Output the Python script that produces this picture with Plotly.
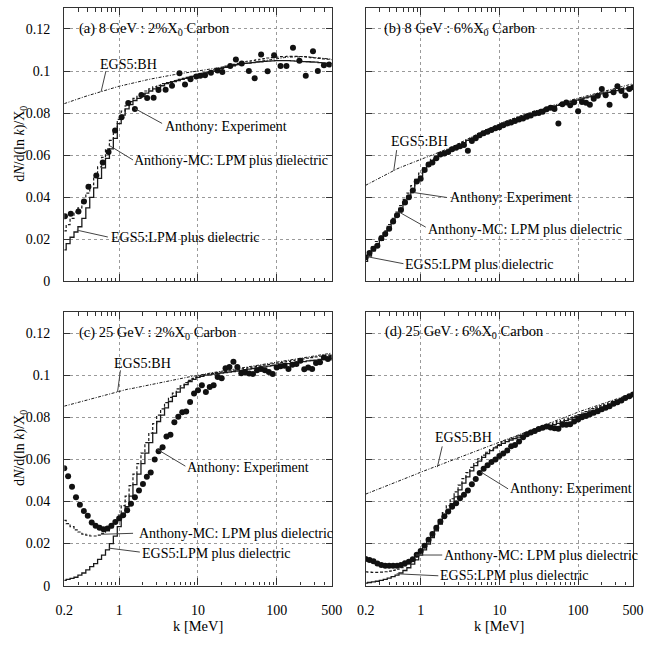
import numpy as np
import plotly.graph_objects as go

# ---------------- data ----------------
K = [0.2, 0.224, 0.251, 0.282, 0.316, 0.355, 0.398, 0.447, 0.501, 0.562, 0.631, 0.708, 0.794, 0.891,
     1.0, 1.12, 1.26, 1.41, 1.58, 1.78, 2.0, 2.24, 2.51, 2.82, 3.16, 3.55, 3.98, 4.47, 5.01, 5.62,
     6.31, 7.08, 7.94, 8.91, 10.0, 11.2, 12.6, 14.1, 15.8, 17.8, 20.0, 22.4, 25.1, 28.2, 31.6, 35.5,
     39.8, 44.7, 50.1, 56.2, 63.1, 70.8, 79.4, 89.1, 100, 112, 126, 141, 158, 178, 200, 224, 251,
     282, 316, 355, 398, 447, 501]

# panel (a) 8 GeV 2% X0
EGS5_A = [0.015,0.018,0.021,0.0235,0.026,0.030,0.035,0.040,0.0445,0.049,0.054,0.0585,0.063,0.068,0.075,
          0.079,0.082,0.084,0.086,0.087,0.088,0.0895,0.0905,0.0915,0.0922,0.093,0.094,0.0945,0.095,0.0955,0.096,0.0965,0.097,0.0975,
          0.098,
          0.0985,0.099,0.0995,0.100,0.1008,0.1013,0.1018,0.1022,0.1025,0.103,0.1033,0.1036,0.1038,0.104,0.1042,0.1044,0.1046,0.1047,0.1048,0.1049,
          0.1049,0.1049,0.1049,0.1048,0.1047,0.1046,0.1045,0.1044,0.1043,0.1042,0.104,0.1038,0.1036,0.1035]
MC_A = [0.024,0.027,0.030,0.033,0.035,0.038,0.042,0.046,0.050,0.0545,0.059,0.063,0.067,0.072,0.077,
        0.081,0.0835,0.0855,0.087,0.088,0.089,0.0905,0.0915,0.0925,0.0932,0.094,0.0945,0.095,0.0955,0.096,0.0965,0.097,0.0975,0.098,
        0.0985,
        0.099,0.0995,0.1,0.1006,0.1012,0.1018,0.1023,0.1028,0.1032,0.1036,0.104,0.1044,0.1047,0.105,0.1053,0.1056,0.1059,0.1062,0.1064,0.1066,
        0.1068,0.1069,0.107,0.107,0.107,0.1069,0.1068,0.1066,0.1064,0.1062,0.106,0.1058,0.1056,0.1054]
BH_A = [0.0845,0.0852,0.0858,0.0865,0.0871,0.0877,0.0883,0.0889,0.0895,0.09,0.0906,0.0912,0.0917,0.0923,0.0928,
        0.0932,0.0937,0.0941,0.0946,0.095,0.0954,0.0958,0.0962,0.0966,0.097,0.0973,0.0977,0.098,0.0983,0.0986,0.0989,0.0992,0.0995,0.0998,
        0.1001,
        0.1004,0.1007,0.101,0.1013,0.1016,0.1019,0.1022,0.1025,0.1028,0.1031,0.1034,0.1037,0.104,0.1043,0.1046,0.1049,0.1052,0.1055,0.1058,0.106,
        0.1062,0.1064,0.1066,0.1067,0.1068,0.1068,0.1068,0.1067,0.1066,0.1064,0.1062,0.106,0.1058,0.1056]
KA = [0.204,0.242,0.303,0.356,0.406,0.511,0.617,0.731,0.885,1.07,1.30,1.58,1.91,2.26,2.73,3.15,3.88,4.68,5.82,6.84,
      8.04,9.53,10.7,12.3,14.6,17.7,20.4,25.7,30.3,36.0,44.3,52.5,63.4,76.7,92.7,112,133,161,194,234,289,333,398,465]
EXP_A = [0.031,0.0322,0.0332,0.038,0.045,0.0504,0.0565,0.0615,0.0717,0.078,0.0848,0.082,0.0886,0.0872,0.0873,
         0.091,0.0911,0.093,0.0989,0.0936,0.0961,0.0974,0.0977,0.098,0.0992,0.1003,0.0995,0.1024,0.1055,0.1036,
         0.1,0.0966,0.1078,0.0999,0.1075,0.1024,0.1024,0.1111,0.1049,0.0977,0.1094,0.1,0.1028,0.1031]

# panel (b) 8 GeV 6% X0
EGS5_B = [0.0095,0.012,0.0145,0.017,0.0195,0.022,0.025,0.028,0.031,0.034,0.037,0.040,0.0435,0.047,0.050,
          0.0525,0.055,0.057,0.0585,0.060,0.061,0.062,0.063,0.064,0.065,0.066,0.067,0.068,0.069,0.070,0.071,0.0718,0.0726,0.0734,
          0.0742,
          0.075,0.0757,0.0764,0.0771,0.0778,0.0785,0.0791,0.0797,0.0803,0.0809,0.0815,0.082,0.0826,0.0831,0.0837,0.0843,0.0848,0.0853,0.0858,0.0862,
          0.0867,0.0872,0.0877,0.0882,0.0887,0.0891,0.0895,0.0899,0.0903,0.0907,0.0911,0.0915,0.0919,0.0922]
MC_B = [0.0115,0.014,0.0165,0.019,0.0215,0.024,0.027,0.030,0.033,0.036,0.039,0.042,0.0455,0.0485,0.0515,
        0.054,0.0562,0.058,0.0594,0.0607,0.0618,0.0628,0.0637,0.0646,0.0655,0.0664,0.0673,0.0683,0.0693,0.0703,0.0713,0.0721,0.0729,0.0737,
        0.0745,
        0.0753,0.076,0.0767,0.0774,0.0781,0.0788,0.0794,0.08,0.0806,0.0812,0.0818,0.0824,0.083,0.0835,0.084,0.0846,0.0851,0.0856,0.0861,0.0866,
        0.0871,0.0876,0.0881,0.0886,0.0891,0.0896,0.09,0.0904,0.0908,0.0912,0.0916,0.092,0.0924,0.0927]
BH_B = [0.0457,0.0467,0.0477,0.0487,0.0497,0.0507,0.0517,0.0527,0.0535,0.0543,0.0551,0.0558,0.0565,0.0572,0.058,
        0.0587,0.0594,0.0601,0.0608,0.0615,0.0622,0.063,0.0639,0.0648,0.0657,0.0667,0.0677,0.0687,0.0697,0.0707,0.0716,0.0724,0.0732,0.074,
        0.0749,
        0.0757,0.0764,0.0771,0.0778,0.0785,0.0792,0.0798,0.0804,0.081,0.0816,0.0822,0.0828,0.0834,0.0839,0.0845,0.0851,0.0856,0.0861,0.0866,0.0871,
        0.0876,0.0881,0.0886,0.0891,0.0896,0.0901,0.0906,0.091,0.0915,0.092,0.0925,0.093,0.0935,0.094]
EXP_B = [0.0115,0.0135,0.0155,0.017,0.0205,0.0225,0.025,0.0285,0.0315,0.034,0.0375,0.040,0.0432,0.0475,0.0488,
         0.053,0.0556,0.0565,0.0585,0.0603,0.0608,0.0615,0.0628,0.0635,0.0642,0.0648,0.0621,0.0668,0.0681,0.0695,0.0704,0.0712,0.072,0.0728,
         0.0733,
         0.0742,0.0751,0.0755,0.0762,0.077,0.0775,0.0783,0.0789,0.0798,0.0801,0.0806,0.0818,0.0826,0.082,0.0751,0.0842,0.085,0.0837,0.0852,0.0809,
         0.0853,0.0849,0.084,0.0868,0.0882,0.0915,0.0885,0.084,0.0899,0.0928,0.0905,0.0884,0.0915,0.0923]

# panel (c) 25 GeV 2% X0
EGS5_C = [0.0025,0.003,0.0035,0.004,0.005,0.006,0.0075,0.009,0.0105,0.0125,0.0145,0.017,0.02,0.0235,0.028,
          0.033,0.0375,0.0425,0.048,0.053,0.058,0.063,0.068,0.0725,0.078,0.081,0.0845,0.0875,0.09,0.092,0.094,0.0955,0.097,0.098,
          0.099,
          0.0995,0.1,0.1002,0.1005,0.1007,0.101,0.1012,0.1015,0.1017,0.102,0.1023,0.1026,0.1029,0.1032,0.1035,0.1038,0.104,0.1043,0.1046,0.1048,
          0.105,0.1053,0.1055,0.1058,0.106,0.1063,0.1065,0.1068,0.107,0.1072,0.1075,0.1077,0.1079,0.108]
MC_C = [0.031,0.0295,0.028,0.0265,0.0255,0.0245,0.024,0.0236,0.0236,0.024,0.0248,0.026,0.0275,0.03,0.0335,
        0.038,0.0425,0.0475,0.053,0.058,0.063,0.068,0.0725,0.077,0.081,0.084,0.087,0.0895,0.0915,0.0935,0.095,0.0965,0.0975,0.0985,
        0.0992,
        0.0998,0.1003,0.1006,0.1009,0.1012,0.1015,0.1018,0.1021,0.1024,0.1027,0.103,0.1033,0.1036,0.1039,0.1042,0.1045,0.1048,0.1051,0.1054,0.1057,
        0.106,0.1063,0.1066,0.1069,0.1072,0.1075,0.1078,0.1081,0.1084,0.1087,0.109,0.1093,0.1095,0.1097]
BH_C = [0.0853,0.0858,0.0863,0.0868,0.0874,0.0879,0.0884,0.0889,0.0894,0.0899,0.0904,0.091,0.0915,0.092,0.0925,
        0.0929,0.0933,0.0936,0.094,0.0944,0.0948,0.0951,0.0955,0.0959,0.0963,0.0966,0.097,0.0974,0.0978,0.0981,0.0985,0.0989,0.0993,0.0996,
        0.1,
        0.1003,0.1006,0.101,0.1013,0.1016,0.1019,0.1022,0.1025,0.1028,0.1032,0.1035,0.1038,0.1041,0.1044,0.1047,0.105,0.1054,0.1057,0.106,0.1063,
        0.1066,0.1069,0.1072,0.1075,0.1078,0.1081,0.1084,0.1087,0.109,0.1093,0.1096,0.1099,0.1102,0.1105]
EXP_C = [0.0558,0.052,0.047,0.042,0.0385,0.0355,0.0332,0.030,0.0285,0.0275,0.0268,0.0272,0.0285,0.0303,0.0319,
         0.0334,0.0358,0.0389,0.042,0.0452,0.0483,0.0517,0.0538,0.060,0.0639,0.0658,0.0709,0.0717,0.0777,0.0803,0.0824,0.0828,0.0873,0.0913,
         0.0928,
         0.0952,0.092,0.0944,0.0952,0.0991,0.0985,0.1033,0.1039,0.1064,0.1039,0.1009,0.1014,0.1008,0.1006,0.1023,0.103,0.1023,0.1015,0.1006,0.1037,
         0.1042,0.1045,0.103,0.105,0.1053,0.1069,0.1028,0.1037,0.103,0.1058,0.1061,0.1084,0.1077,0.1084]

# panel (d) 25 GeV 6% X0
EGS5_D = [0.0012,0.0015,0.0018,0.0021,0.0025,0.003,0.0036,0.0043,0.005,0.006,0.0072,0.0085,0.0102,0.0122,0.0145,
          0.017,0.0198,0.0228,0.026,0.0292,0.0325,0.0358,0.039,0.0422,0.0455,0.0487,0.0517,0.0545,0.057,0.0592,0.061,0.0627,0.0642,0.0655,
          0.0667,
          0.0676,0.0684,0.0692,0.0699,0.0706,0.0713,0.0719,0.0726,0.0733,0.074,0.0746,0.0752,0.0759,0.0765,0.0771,0.0778,0.0784,0.0791,0.0798,0.0805,
          0.0812,0.0819,0.0826,0.0833,0.084,0.0847,0.0854,0.0861,0.0868,0.0875,0.0883,0.0891,0.0899,0.0907]
MC_D = [0.0065,0.0064,0.0063,0.0063,0.0064,0.0066,0.0069,0.0073,0.0078,0.0085,0.0094,0.0106,0.012,0.0138,0.016,
        0.0186,0.0215,0.0247,0.028,0.0313,0.0347,0.038,0.0413,0.0446,0.0478,0.0509,0.0537,0.0562,0.0584,0.0603,0.062,0.0634,0.0647,0.0659,
        0.067,
        0.0684,0.0692,0.07,0.0707,0.0714,0.0721,0.0727,0.0734,0.0741,0.0748,0.0754,0.076,0.0767,0.0773,0.0779,0.0786,0.0792,0.0799,0.0806,0.0813,
        0.082,0.0827,0.0834,0.0841,0.0848,0.0855,0.0862,0.0869,0.0876,0.0883,0.0891,0.0899,0.0907,0.0915]
BH_D = [0.0435,0.0442,0.0449,0.0457,0.0464,0.0472,0.0479,0.0487,0.0494,0.0501,0.0509,0.0516,0.0524,0.0531,0.0539,
        0.0546,0.0553,0.056,0.0567,0.0574,0.0581,0.0588,0.0595,0.0602,0.0609,0.0616,0.0623,0.063,0.0637,0.0644,0.0651,0.0658,0.0665,0.0672,
        0.068,
        0.0687,0.0694,0.0701,0.0709,0.0716,0.0723,0.073,0.0738,0.0745,0.0752,0.0759,0.0767,0.0774,0.0781,0.0788,0.0796,0.0803,0.081,0.0817,0.0825,
        0.0831,0.0838,0.0844,0.085,0.0857,0.0863,0.0869,0.0876,0.0882,0.0888,0.0895,0.0901,0.0908,0.0914]
EXP_D = [0.0127,0.0122,0.0116,0.0105,0.0098,0.0095,0.0094,0.0095,0.0095,0.0098,0.0106,0.0114,0.0125,0.0147,0.0165,
         0.019,0.0218,0.0245,0.0275,0.0305,0.033,0.0352,0.0375,0.0392,0.0415,0.0432,0.0452,0.0482,0.0507,0.0535,0.0555,0.0572,0.0588,0.06,
         0.0616,
         0.0628,0.0642,0.0662,0.0668,0.0685,0.0705,0.072,0.0728,0.0735,0.0744,0.075,0.0756,0.0752,0.0748,0.0745,0.0764,0.0765,0.0767,0.078,0.079,
         0.08,0.0806,0.0815,0.0822,0.0829,0.0838,0.0845,0.0853,0.0864,0.0871,0.088,0.0892,0.09,0.0908]

PANEL_TITLES = ["(a) 8 GeV : 2%X<sub>0</sub> Carbon", "(b) 8 GeV : 6%X<sub>0</sub> Carbon",
                "(c) 25 GeV : 2%X<sub>0</sub> Carbon", "(d) 25 GeV : 6%X<sub>0</sub> Carbon"]
X_TICKS = [0.2, 1, 10, 100, 500]
X_TICKTEXT = ["0.2", "1", "10", "100", "500"]
Y_TICKS = [0, 0.02, 0.04, 0.06, 0.08, 0.1, 0.12]
Y_TICKTEXT = ["0", "0.02", "0.04", "0.06", "0.08", "0.1", "0.12"]
LABELS = ["EGS5:BH", "Anthony: Experiment", "Anthony-MC: LPM plus dielectric", "EGS5:LPM plus dielectric"]

for arr in [EGS5_A, MC_A, BH_A, EGS5_B, MC_B, BH_B, EXP_B, EGS5_C, MC_C, BH_C, EXP_C,
            EGS5_D, MC_D, BH_D, EXP_D]:
    assert len(arr) == len(K), len(arr)
assert len(KA) == len(EXP_A)

# ---------------- figure ----------------
W, H = 648, 645
FONT = "Liberation Serif"
INK = "#1a1a1a"

def px(x):
    return x / W

def py(y):
    return 1 - y / H

# panel boxes in pixels: (left, right, top, bottom)
BOXES = [(57, 333, 8, 285), (368, 644, 8, 285), (57, 333, 316, 593), (368, 644, 316, 593)]

panels = [
    (BH_A, MC_A, EGS5_A, KA, EXP_A),
    (BH_B, MC_B, EGS5_B, K, EXP_B),
    (BH_C, MC_C, EGS5_C, K, EXP_C),
    (BH_D, MC_D, EGS5_D, K, EXP_D),
]

fig = go.Figure()
minor_vals = [m * d for d in (0.1, 1, 10, 100) for m in range(2, 10) if 0.2 < m * d < 500]

for i, (bh, mc, egs, kx, ex) in enumerate(panels):
    n = "" if i == 0 else str(i + 1)
    xa, ya = "x" + n, "y" + n
    fig.add_trace(go.Scatter(x=K, y=bh, mode="lines", xaxis=xa, yaxis=ya,
                             line=dict(color=INK, width=1.0, dash="3px,1.5px,1px,1.5px")))
    fig.add_trace(go.Scatter(x=K, y=mc, mode="lines", xaxis=xa, yaxis=ya, line_shape="hvh",
                             line=dict(color=INK, width=1.2, dash="3px,2px")))
    fig.add_trace(go.Scatter(x=K, y=egs, mode="lines", xaxis=xa, yaxis=ya, line_shape="hvh",
                             line=dict(color=INK, width=1.3)))
    fig.add_trace(go.Scatter(x=kx, y=ex, mode="markers", xaxis=xa, yaxis=ya,
                             marker=dict(color="#111", size=6)))

    l, r, t, b = BOXES[i]
    bottom = i >= 2
    left = i % 2 == 0
    xax = dict(type="log", range=[np.log10(0.2), np.log10(500)], domain=[px(l), px(r)],
               anchor=ya, tickvals=X_TICKS, ticktext=X_TICKTEXT, showticklabels=bottom,
               ticks="inside", ticklen=7, tickwidth=1, tickcolor="#333", mirror="allticks",
               showline=True, linecolor="#333", linewidth=1.3,
               showgrid=True, gridcolor="#9a9a9a", griddash="dot", gridwidth=1,
               minor=dict(tickvals=minor_vals, ticks="inside", ticklen=3.5, tickcolor="#333",
                          showgrid=False),
               tickfont=dict(family=FONT, size=14, color="black"),
               ticklabelstandoff=11, zeroline=False)
    yax = dict(range=[0, 0.13], domain=[py(b), py(t)], anchor=xa,
               tickvals=Y_TICKS, ticktext=Y_TICKTEXT, showticklabels=left,
               ticks="inside", ticklen=6, tickwidth=1, tickcolor="#333", mirror="allticks",
               showline=True, linecolor="#333", linewidth=1.3,
               showgrid=True, gridcolor="#9a9a9a", griddash="dot", gridwidth=1,
               tickfont=dict(family=FONT, size=14, color="black"),
               ticklabelstandoff=10, zeroline=False)
    fig.layout["xaxis" + n] = xax
    fig.layout["yaxis" + n] = yax

annotations = []
shapes = []

def text(x, y, s, anchor="left", size=14, angle=0):
    annotations.append(dict(x=px(x), y=py(y), xref="paper", yref="paper", text=s,
                            showarrow=False, xanchor=anchor, yanchor="middle", textangle=angle,
                            font=dict(family=FONT, size=size, color="black")))

def lead(x0, y0, x1, y1):
    shapes.append(dict(type="line", xref="paper", yref="paper", x0=px(x0), y0=py(y0),
                       x1=px(x1), y1=py(y1), line=dict(color="#444", width=1)))

# panel titles
text(70, 29, PANEL_TITLES[0], size=14.5)
text(385, 29, PANEL_TITLES[1], size=14.5)
text(70, 337, PANEL_TITLES[2], size=14.5)
text(386, 336, PANEL_TITLES[3], size=14.5)

# curve labels: (left x, y) per panel, and leader lines
LABEL_POS = [
    [(92, 65), (159, 128), (127, 163), (103, 240)],
    [(392, 143), (453, 200), (430, 232), (407, 268)],
    [(106, 368), (182, 473), (132, 540), (135, 560)],
    [(438, 443), (515, 495), (447, 562), (443, 583)],
]
LEADERS = [
    [(100, 72, 95, 93), (158, 125, 130, 110), (128, 162, 103, 147), (102, 240, 70, 233)],
    [(400, 152, 397, 173), (452, 200, 418, 195), (430, 230, 403, 215), (407, 267, 370, 260)],
    [(115, 375, 112, 397), (182, 472, 153, 455), (128, 540, 95, 541), (135, 559, 103, 555)],
    [(447, 452, 442, 473), (515, 495, 487, 478), (447, 562, 420, 562), (443, 583, 400, 581)],
]
for i in range(4):
    for j in range(4):
        x, y = LABEL_POS[i][j]
        text(x, y, LABELS[j])
        lead(*LEADERS[i][j])

# axis titles
ytitle = "d<i>N</i>/d(ln <i>k</i>)/X<sub>0</sub>"
text(12, 146, ytitle, anchor="center", size=14, angle=-90)
text(12, 454, ytitle, anchor="center", size=14, angle=-90)
text(195, 634, "k [MeV]", anchor="center", size=14.5)
text(506, 634, "k [MeV]", anchor="center", size=14.5)

fig.update_layout(width=W, height=H, margin=dict(l=0, r=0, t=0, b=0),
                  paper_bgcolor="white", plot_bgcolor="white", showlegend=False,
                  annotations=annotations, shapes=shapes,
                  font=dict(family=FONT, size=14, color="black"))

fig.write_html("out.html")
